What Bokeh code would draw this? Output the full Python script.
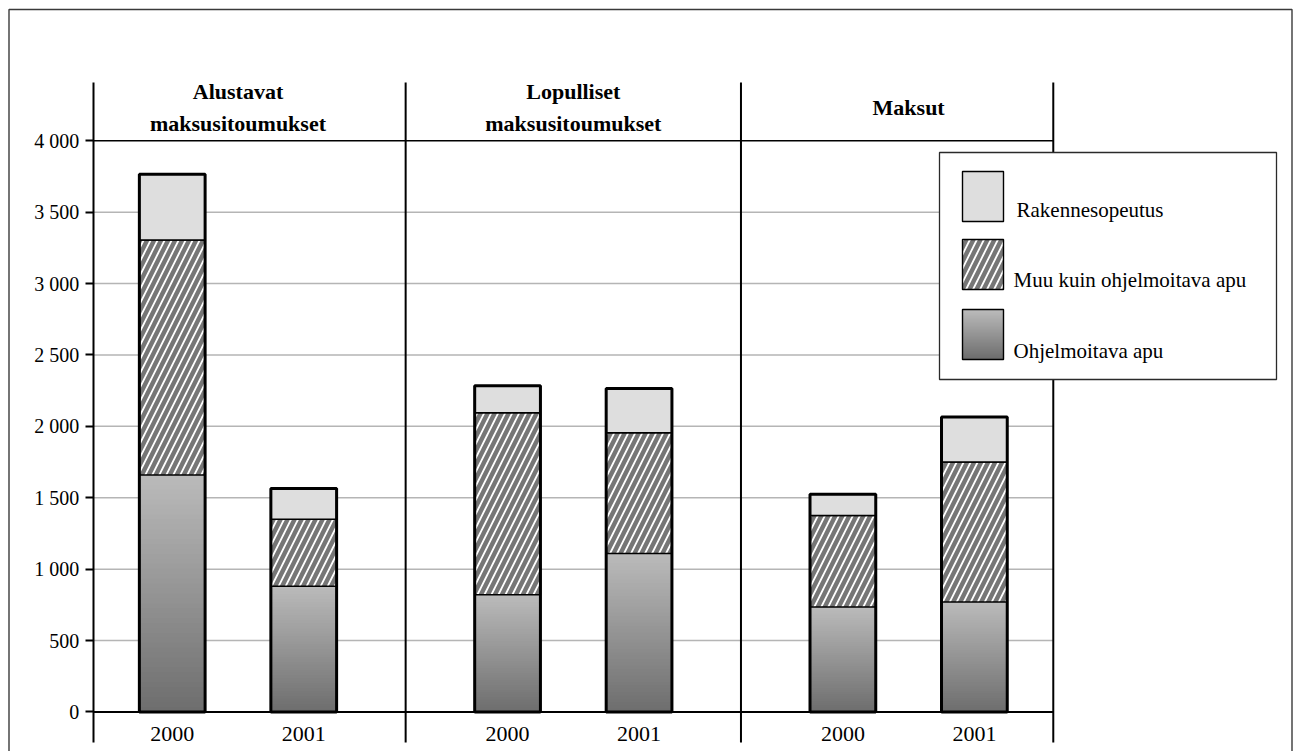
from bokeh.plotting import figure
from bokeh.models import Range1d, FixedTicker, LinearAxis, BoxAnnotation, Label
from bokeh.core.properties import value
from bokeh.embed import file_html
from bokeh.resources import INLINE

# --- data -------------------------------------------------------------------
groups = ["Alustavat\nmaksusitoumukset", "Lopulliset\nmaksusitoumukset", "Maksut"]
years = ["2000", "2001"]
ohjelmoitava = [1660, 880, 820, 1110, 735, 770]
muu = [1645, 470, 1275, 845, 640, 980]
rakenne = [460, 215, 190, 310, 150, 315]
series_names = ["Rakennesopeutus", "Muu kuin ohjelmoitava apu", "Ohjelmoitava apu"]
y_ticks = [0, 500, 1000, 1500, 2000, 2500, 3000, 3500, 4000]
y_tick_labels = ["0", "500", "1 000", "1 500", "2 000", "2 500", "3 000", "3 500", "4 000"]

# --- style / layout ---------------------------------------------------------
FONT = "Liberation Serif"
LIGHT = "#dedede"
HATCH_BG = "#767676"
GRAD_TOP = (186, 186, 186)
GRAD_BOTTOM = (110, 110, 110)
N_SLICES = 48
GROUP_GAP = 0.55          # extra space between groups, in bar slots
PANEL_PAD = 0.6           # panel edge distance from outermost bar centres
BAR_W = 0.5
AX_LO, AX_HI = -214, 4408  # vertical extent of axis / panel lines
HATCH = dict(hatch_pattern="/", hatch_color="white", hatch_weight=1.8, hatch_scale=14)


def shade(t):
    """Gray between the bottom (t=0) and top (t=1) of the gradient."""
    c = [round(b + (a - b) * t) for a, b in zip(GRAD_TOP, GRAD_BOTTOM)]
    return "#%02x%02x%02x" % tuple(c)


# bar slot positions: two slots per group, groups separated by GROUP_GAP
stride = len(years) + GROUP_GAP
xpos = [gi * stride + yi for gi in range(len(groups)) for yi in range(len(years))]
year_text = [yr for _ in groups for yr in years]
group_centers = [gi * stride + (len(years) - 1) / 2 for gi in range(len(groups))]
left_edge = xpos[0] - PANEL_PAD
right_edge = xpos[-1] + PANEL_PAD
separators = [(xpos[2 * gi + 1] + xpos[2 * gi + 2]) / 2 for gi in range(len(groups) - 1)]
separators.append(right_edge)

mid_top = [o + m for o, m in zip(ohjelmoitava, muu)]
total = [t + r for t, r in zip(mid_top, rakenne)]

p = figure(
    x_range=Range1d(-1.306, 8.542), y_range=Range1d(-277, 4982),
    width=1295, height=751, output_backend="svg", toolbar_location=None,
    x_axis_location=None, y_axis_location=None,
    min_border_left=0, min_border_right=0, min_border_top=0, min_border_bottom=0,
    background_fill_color="white", border_fill_color="white",
)
p.outline_line_color = None
p.grid.visible = False

# y axis drawn inside the frame at the left panel edge
ax = LinearAxis(fixed_location=left_edge, bounds=(AX_LO, AX_HI),
                ticker=FixedTicker(ticks=y_ticks))
ax.major_label_overrides = {t: lab for t, lab in zip(y_ticks, y_tick_labels)}
ax.minor_tick_line_color = None
ax.major_tick_in = 0
ax.major_tick_out = 8
ax.major_tick_line_width = 2
ax.major_tick_line_color = "black"
ax.axis_line_width = 2
ax.axis_line_color = "black"
ax.major_label_standoff = 6
ax.major_label_text_font = FONT
ax.major_label_text_font_size = "20px"
ax.major_label_text_color = "black"
p.add_layout(ax, "left")

# horizontal grid lines, limited to the panels
inner = y_ticks[1:-1]
p.segment(x0=[left_edge] * len(inner), x1=[right_edge] * len(inner), y0=inner, y1=inner,
          line_color="#b5b5b5", line_width=1.5)
# baseline and top line
p.segment(x0=[left_edge] * 2, x1=[right_edge] * 2, y0=[y_ticks[0], y_ticks[-1]],
          y1=[y_ticks[0], y_ticks[-1]], line_color="black", line_width=[2, 1.6])
# panel separators
p.segment(x0=separators, x1=separators, y0=[AX_LO] * len(separators),
          y1=[AX_HI] * len(separators), line_color="black", line_width=2)

# Ohjelmoitava apu: gradient built from overlapping slices, darker at the bottom
gx, gb, gt, gc = [], [], [], []
for xv, v in zip(xpos, ohjelmoitava):
    for k in range(N_SLICES):
        gx.append(xv)
        gb.append(v * k / N_SLICES)
        gt.append(v)
        gc.append(shade(k / (N_SLICES - 1)))
p.vbar(x=gx, width=BAR_W, bottom=gb, top=gt, fill_color=gc, line_color=None)

# Muu kuin ohjelmoitava apu: hatched
p.vbar(x=xpos, width=BAR_W, bottom=ohjelmoitava, top=mid_top,
       fill_color=HATCH_BG, line_color="black", line_width=1.5, **HATCH)

# Rakennesopeutus
p.vbar(x=xpos, width=BAR_W, bottom=mid_top, top=total,
       fill_color=LIGHT, line_color="black", line_width=1.5)

# outline of each whole stack
p.vbar(x=xpos, width=BAR_W, bottom=0, top=total,
       fill_color=None, line_color="black", line_width=3)

# group titles and year labels
p.text(x=group_centers, y=[y_ticks[-1]] * len(groups), text=groups,
       text_font=value(FONT), text_font_style="bold", text_font_size="22px",
       text_align="center", text_baseline="middle", text_line_height=1.27,
       y_offset=-33, text_color="black")
p.text(x=xpos, y=[0] * len(xpos), text=year_text,
       text_font=value(FONT), text_font_size="22px", text_align="center",
       text_baseline="middle", y_offset=22, text_color="black")


# legend and outer frame (drawn in canvas pixels)
def canvas_box(l, r, t, b, **kw):
    return BoxAnnotation(left=l, right=r, top=t, bottom=b,
                         left_units="canvas", right_units="canvas",
                         top_units="canvas", bottom_units="canvas", **kw)


p.add_layout(canvas_box(939, 1276, 152, 379, fill_color="white", fill_alpha=1,
                        line_color="#2a2a2a", line_alpha=1, line_width=1.3))
SW_L, SW_R, SW_H = 962, 1003, 50
sw_tops = [171, 239, 309]
p.add_layout(canvas_box(SW_L, SW_R, sw_tops[0], sw_tops[0] + SW_H, fill_color=LIGHT,
                        fill_alpha=1, line_color="black", line_alpha=1, line_width=1.4))
p.add_layout(canvas_box(SW_L, SW_R, sw_tops[1], sw_tops[1] + SW_H, fill_color=HATCH_BG,
                        fill_alpha=1, line_color="black", line_alpha=1, line_width=1.4,
                        **HATCH))
n_leg = 25
for k in range(n_leg):
    t0 = sw_tops[2] + SW_H * k / n_leg
    p.add_layout(canvas_box(SW_L, SW_R, t0, sw_tops[2] + SW_H,
                            fill_color=shade(1 - k / (n_leg - 1)),
                            fill_alpha=1, line_color=None))
p.add_layout(canvas_box(SW_L, SW_R, sw_tops[2], sw_tops[2] + SW_H, fill_color=None,
                        line_color="black", line_alpha=1, line_width=1.4))

label_pos = [(1016, 209), (1013, 279), (1013, 350)]
for name, (lx, ly) in zip(series_names, label_pos):
    p.add_layout(Label(x=lx, y=ly, x_units="canvas", y_units="canvas", text=name,
                       text_font=FONT, text_font_size="21px", text_baseline="middle",
                       text_color="black"))

# outer frame; its lower edge lies below the canvas
p.add_layout(canvas_box(8.5, 1291.5, 9, 770, fill_color=None, line_color="#3a3a3a",
                        line_alpha=1, line_width=1.4))

open("out.html", "w").write(file_html(p, INLINE))
